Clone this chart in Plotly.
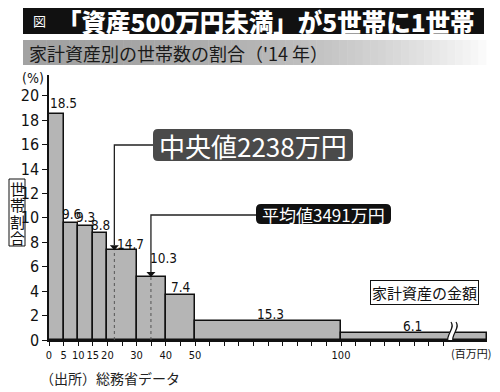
import numpy as np
import plotly.graph_objects as go

# ---------------- data ----------------
bin_edges = [0, 5, 10, 15, 20, 30, 40, 50, 100, 150]   # 百万円 (last edge = drawn end of open class)
shares = [18.5, 9.6, 9.3, 8.8, 14.7, 10.3, 7.4, 15.3, 6.1]  # 世帯割合 (%)
x_tick_vals = list(range(0, 140, 5))
x_tick_shown = [0, 5, 10, 15, 20, 30, 40, 50, 100]
y_tick_vals = list(range(0, 21, 2))
median_value = 22.38
mean_value = 34.91
median_label = "中央値2238万円"
mean_label = "平均値3491万円"

# ---------------- layout constants (page pixels) ----------------
OFF = 8                      # default body margin of the page
W, H = 500 - OFF, 392 - OFF  # figure size
PL, PR, PT, PB = 49, 487, 75, 340   # plot area in page pixels
ML, MR, MT, MB = PL - OFF, (W + OFF) - PR, PT - OFF, (H + OFF) - PB
XR = [0, 150]
YR = [0, 21.7]
PW, PH = PR - PL, PB - PT
SX = PW / (XR[1] - XR[0])
SY = PH / (YR[1] - YR[0])

NUM_FONT = "Liberation Sans Narrow, DejaVu Sans Condensed, Arial Narrow, sans-serif"
JP_FONT = "Noto Sans CJK JP, Noto Sans CJK SC, sans-serif"


def dx(px):  # page pixel x -> data x
    return XR[0] + (px - PL) / SX


def dy(py):  # page pixel y -> data y
    return YR[0] + (PB - py) / SY


def pxp(px):  # page pixel -> paper
    return (px - PL) / PW


def pyp(py):
    return (PB - py) / PH


edges = np.array(bin_edges, dtype=float)
widths = np.diff(edges)
centers = edges[:-1] + widths / 2
heights = np.array(shares) * 5.0 / widths   # bar height per 5百万円 class width

fig = go.Figure()
fig.add_trace(go.Bar(
    x=centers, y=heights, width=widths,
    marker=dict(color="#b5b5b5", line=dict(color="#111111", width=1.5)),
    hoverinfo="skip", showlegend=False,
))

shapes = []
annotations = []

# value labels
lab_dx = [7, 1, 0, 0, 8, 12, 1, 2, -2]
lab_dy = [11, 9, 9, 8, 6, 19, 8, 7, 7]
for c, h, s, ox, oy in zip(centers, heights, shares, lab_dx, lab_dy):
    annotations.append(dict(x=c, y=h, xref="x", yref="y", text=f"{s:.1f}", showarrow=False,
                            xshift=ox, yshift=oy, xanchor="center", yanchor="middle",
                            font=dict(family=NUM_FONT, size=13.5, color="#111")))


def bar_height_at(v):
    i = np.searchsorted(edges, v, side="right") - 1
    return heights[i]


def rounded_rect(x0, y0, x1, y1, r):
    pts = [
        f"M {dx(x0 + r)},{dy(y0)}",
        f"L {dx(x1 - r)},{dy(y0)}",
        f"Q {dx(x1)},{dy(y0)} {dx(x1)},{dy(y0 + r)}",
        f"L {dx(x1)},{dy(y1 - r)}",
        f"Q {dx(x1)},{dy(y1)} {dx(x1 - r)},{dy(y1)}",
        f"L {dx(x0 + r)},{dy(y1)}",
        f"Q {dx(x0)},{dy(y1)} {dx(x0)},{dy(y1 - r)}",
        f"L {dx(x0)},{dy(y0 + r)}",
        f"Q {dx(x0)},{dy(y0)} {dx(x0 + r)},{dy(y0)} Z",
    ]
    return " ".join(pts)


# median / mean pointers
for val, line_py, box, label_text, fsize, fill in [
    (median_value, 145, (153, 129, 353, 161), median_label, 26, "#4a4a4a"),
    (mean_value, 215, (256, 204, 391, 224), mean_label, 17, "#111111"),
]:
    top = bar_height_at(val)
    px_val = PL + (val - XR[0]) * SX
    tri_h = 5 / SY
    shapes.append(dict(type="path", xref="x", yref="y",
                       path=f"M {dx(px_val - 4.5)},{top + tri_h} L {dx(px_val + 4.5)},{top + tri_h} L {val},{top} Z",
                       fillcolor="#111", line=dict(width=0)))
    shapes.append(dict(type="line", xref="x", yref="y", x0=val, x1=val, y0=0, y1=top,
                       line=dict(color="#555", width=1, dash="3px,3px")))
    shapes.append(dict(type="path", xref="x", yref="y",
                       path=f"M {val},{top + tri_h} L {val},{dy(line_py)} L {dx(box[0])},{dy(line_py)}",
                       line=dict(color="#222", width=1.3)))
    shapes.append(dict(type="path", xref="x", yref="y", path=rounded_rect(*box, 5),
                       fillcolor=fill, line=dict(width=0)))
    annotations.append(dict(x=dx((box[0] + box[2]) / 2), y=dy((box[1] + box[3]) / 2), xref="x", yref="y",
                            text=label_text, showarrow=False, xanchor="center", yanchor="middle",
                            font=dict(family=JP_FONT, size=fsize, color="white")))

# axis break marker
bx, bt, bb = 449, 322, 344
def s_curve(o):
    return (bx + o + 2, bt), (bx + o + 7, bt + 7), (bx + o - 5, bb - 9), (bx + o, bb)
c1, c2 = s_curve(0), s_curve(5)
fill_path = (f"M {dx(c1[0][0])},{dy(c1[0][1])} C {dx(c1[1][0])},{dy(c1[1][1])} {dx(c1[2][0])},{dy(c1[2][1])} {dx(c1[3][0])},{dy(c1[3][1])} "
             f"L {dx(c2[3][0])},{dy(c2[3][1])} C {dx(c2[2][0])},{dy(c2[2][1])} {dx(c2[1][0])},{dy(c2[1][1])} {dx(c2[0][0])},{dy(c2[0][1])} Z")
shapes.append(dict(type="path", xref="x", yref="y", path=fill_path, fillcolor="white", line=dict(width=0)))
for c in (c1, c2):
    shapes.append(dict(type="path", xref="x", yref="y",
                       path=f"M {dx(c[0][0])},{dy(c[0][1])} C {dx(c[1][0])},{dy(c[1][1])} {dx(c[2][0])},{dy(c[2][1])} {dx(c[3][0])},{dy(c[3][1])}",
                       line=dict(color="#111", width=1.2)))

# title band
shapes.append(dict(type="rect", xref="paper", yref="paper", x0=pxp(23), x1=pxp(484), y0=pyp(34), y1=pyp(3),
                   fillcolor="#111111", line=dict(width=0), layer="below"))
# subtitle gradient band
n = 60
xs = np.linspace(23, 486, n + 1)
for i in range(n):
    t = i / (n - 1)
    g = int(162 + 88 * t ** 2.2)
    shapes.append(dict(type="rect", xref="paper", yref="paper", x0=pxp(xs[i]), x1=pxp(xs[i + 1] + 0.5),
                       y0=pyp(65), y1=pyp(40), fillcolor=f"rgb({g},{g},{g})", line=dict(width=0), layer="below"))


def label(px, py, text, size, color="#111", family=JP_FONT, xanchor="center", **kw):
    return dict(x=pxp(px), y=pyp(py), xref="paper", yref="paper", text=text, showarrow=False,
                xanchor=xanchor, yanchor="middle", font=dict(family=family, size=size, color=color), **kw)


annotations += [
    label(39, 20, "図", 13, color="white"),
    dict(label(55, 21, "「資産500万円未満」が5世帯に1世帯", 24.5, color="white", xanchor="left"),
         font=dict(family=JP_FONT, size=24.5, color="white", weight=900)),
    label(27, 53, "家計資産別の世帯数の割合（'14 年）", 18, color="#1a1a1a", xanchor="left"),
    label(33, 78, "(%)", 14, family=NUM_FONT),
    label(424, 292, "家計資産の金額", 15, bordercolor="#111", borderwidth=1, borderpad=1, bgcolor="white"),
    label(471, 353, "(百万円)", 11),
    label(38, 378, "（出所）総務省データ", 14, color="#222", xanchor="left"),
]

# vertical axis title in a box (kept inside the figure's left edge)
ylab = "世帯割合"
for i, ch in enumerate(ylab):
    annotations.append(label(17, 188 + i * 16.5, ch, 15))
shapes.append(dict(type="rect", xref="paper", yref="paper", x0=pxp(9), x1=pxp(25), y0=pyp(246), y1=pyp(179),
                   line=dict(color="#111", width=1), fillcolor="rgba(0,0,0,0)"))

fig.update_layout(
    template="none",
    width=W, height=H,
    margin=dict(l=ML, r=MR, t=MT, b=MB, autoexpand=False),
    plot_bgcolor="white", paper_bgcolor="white",
    bargap=0, shapes=shapes, annotations=annotations, showlegend=False,
    xaxis=dict(range=XR, showgrid=False, zeroline=False, showline=True, linecolor="#111", linewidth=1.5,
               ticks="outside", ticklen=4, tickcolor="#111", tickwidth=1, tickangle=0, automargin=False,
               tickvals=x_tick_vals, ticktext=[str(v) if v in x_tick_shown else "" for v in x_tick_vals],
               tickfont=dict(family=NUM_FONT, size=11, color="#111"), fixedrange=True),
    yaxis=dict(range=YR, showgrid=False, zeroline=False, showline=True, linecolor="#111", linewidth=1.5,
               ticks="outside", ticklen=5, tickcolor="#111", tickwidth=1, automargin=False,
               tickvals=y_tick_vals, tickfont=dict(family=NUM_FONT, size=16, color="#111"), fixedrange=True),
)

fig.write_html("out.html")
